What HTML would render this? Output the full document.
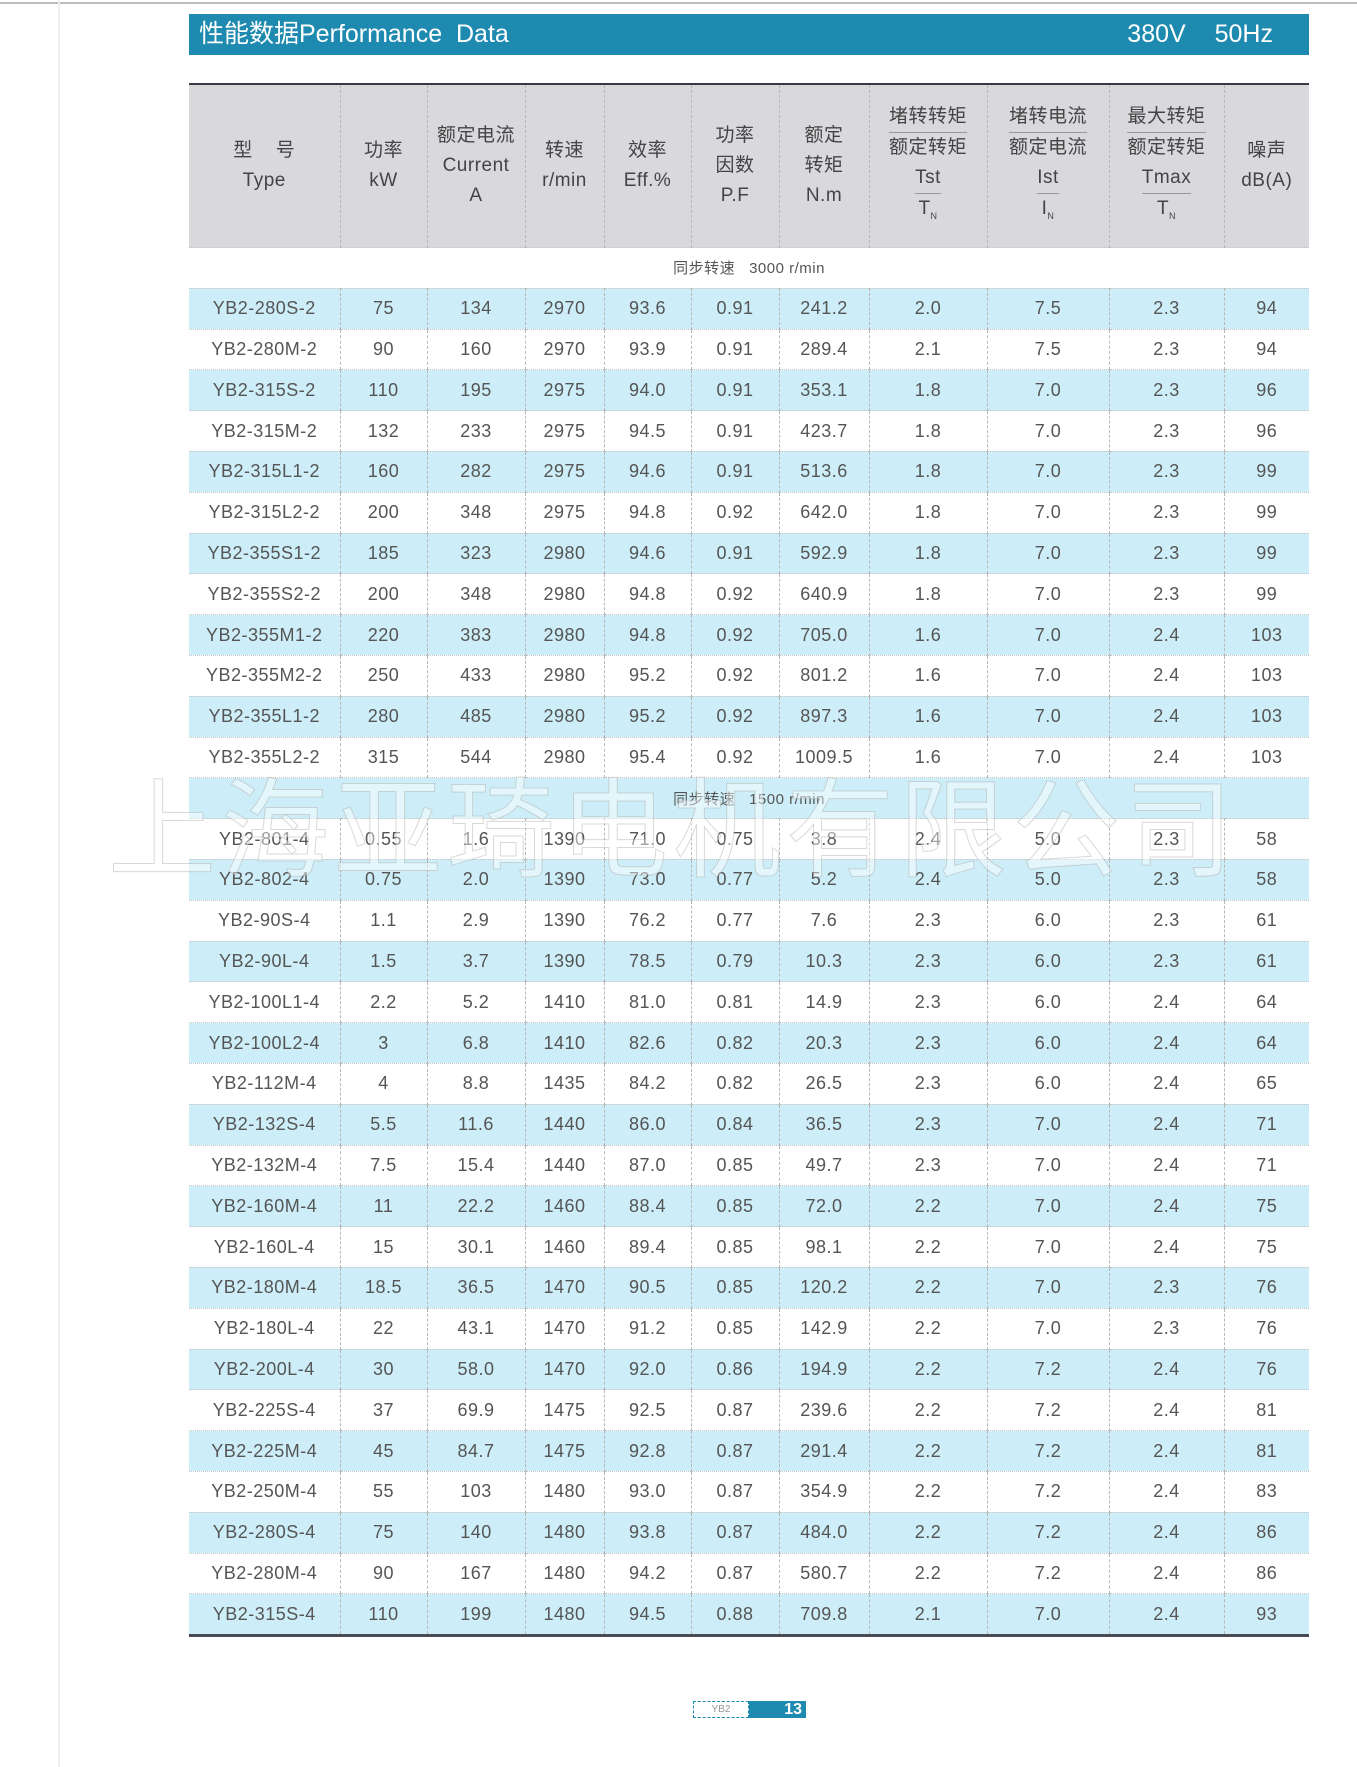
<!DOCTYPE html>
<html><head><meta charset="utf-8">
<style>
html,body{margin:0;padding:0;background:#fff;}
body{width:1357px;height:1767px;position:relative;overflow:hidden;font-family:"Liberation Sans","Noto Sans CJK SC",sans-serif;}
.bar{position:absolute;left:189px;top:14px;width:1120px;height:41px;background:#1f8ab0;color:#fff;}
.bar .t{position:absolute;left:10px;top:3px;font-size:25px;line-height:34px;}
.bar .r{position:absolute;right:36px;top:3px;font-size:25px;line-height:34px;word-spacing:22px;}
table{position:absolute;left:189px;top:83px;width:1120px;border-collapse:collapse;table-layout:fixed;border-top:2px solid #3a3a44;border-bottom:3px solid #4a4a55;}
td{padding:0;text-align:center;color:#555;font-size:18px;border-left:1px dashed #b8b8b8;border-top:1px dotted #c4c4c4;letter-spacing:0.5px;}
td:first-child{border-left:none;}
tr.h td{background:#d9d9dd;height:162px;font-size:19px;line-height:30px;color:#444;vertical-align:middle;}
tr.d td{height:39.8px;}
tr.b td{background:#cdeef8;}
tr.s td{height:39.8px;font-size:15px;color:#555;border-left:none;}
.fr{display:inline-block;border-bottom:1px solid #999;}
.wm{position:absolute;left:108px;top:762px;font-size:108px;line-height:120px;letter-spacing:5px;color:rgba(255,255,255,0.45);-webkit-text-stroke:1px rgba(170,170,170,0.45);font-family:"Noto Sans CJK SC",sans-serif;white-space:nowrap;}
.pg{position:absolute;left:693px;top:1701px;height:17px;width:113px;}
</style></head><body>
<div style="position:absolute;left:0;top:2px;width:1357px;height:2px;background:#bbb;"></div>
<div style="position:absolute;left:58px;top:0;width:2px;height:1767px;background:#eee;"></div>
<div class="bar"><span class="t">性能数据Performance&nbsp; Data</span><span class="r">380V 50Hz</span></div>
<table>
<colgroup><col style="width:151px"><col style="width:87px"><col style="width:98px"><col style="width:79px"><col style="width:87px"><col style="width:88px"><col style="width:90px"><col style="width:118px"><col style="width:122px"><col style="width:115px"><col style="width:85px"></colgroup>
<tr class="h"><td>型&nbsp;&nbsp;&nbsp;&nbsp;号<br>Type</td><td>功率<br>kW</td><td>额定电流<br>Current<br>A</td><td>转速<br>r/min</td><td>效率<br>Eff.%</td><td>功率<br>因数<br>P.F</td><td>额定<br>转矩<br>N.m</td><td><span class="fr">堵转转矩</span><br>额定转矩<br><span class="fr">Tst</span><br>T<sub style="font-size:9px">N</sub></td><td><span class="fr">堵转电流</span><br>额定电流<br><span class="fr">Ist</span><br>I<sub style="font-size:9px">N</sub></td><td><span class="fr">最大转矩</span><br>额定转矩<br><span class="fr">Tmax</span><br>T<sub style="font-size:9px">N</sub></td><td>噪声<br>dB(A)</td></tr>
<tr class="s"><td colspan="11">同步转速&nbsp;&nbsp; 3000 r/min</td></tr>
<tr class="d b"><td>YB2-280S-2</td><td>75</td><td>134</td><td>2970</td><td>93.6</td><td>0.91</td><td>241.2</td><td>2.0</td><td>7.5</td><td>2.3</td><td>94</td></tr>
<tr class="d"><td>YB2-280M-2</td><td>90</td><td>160</td><td>2970</td><td>93.9</td><td>0.91</td><td>289.4</td><td>2.1</td><td>7.5</td><td>2.3</td><td>94</td></tr>
<tr class="d b"><td>YB2-315S-2</td><td>110</td><td>195</td><td>2975</td><td>94.0</td><td>0.91</td><td>353.1</td><td>1.8</td><td>7.0</td><td>2.3</td><td>96</td></tr>
<tr class="d"><td>YB2-315M-2</td><td>132</td><td>233</td><td>2975</td><td>94.5</td><td>0.91</td><td>423.7</td><td>1.8</td><td>7.0</td><td>2.3</td><td>96</td></tr>
<tr class="d b"><td>YB2-315L1-2</td><td>160</td><td>282</td><td>2975</td><td>94.6</td><td>0.91</td><td>513.6</td><td>1.8</td><td>7.0</td><td>2.3</td><td>99</td></tr>
<tr class="d"><td>YB2-315L2-2</td><td>200</td><td>348</td><td>2975</td><td>94.8</td><td>0.92</td><td>642.0</td><td>1.8</td><td>7.0</td><td>2.3</td><td>99</td></tr>
<tr class="d b"><td>YB2-355S1-2</td><td>185</td><td>323</td><td>2980</td><td>94.6</td><td>0.91</td><td>592.9</td><td>1.8</td><td>7.0</td><td>2.3</td><td>99</td></tr>
<tr class="d"><td>YB2-355S2-2</td><td>200</td><td>348</td><td>2980</td><td>94.8</td><td>0.92</td><td>640.9</td><td>1.8</td><td>7.0</td><td>2.3</td><td>99</td></tr>
<tr class="d b"><td>YB2-355M1-2</td><td>220</td><td>383</td><td>2980</td><td>94.8</td><td>0.92</td><td>705.0</td><td>1.6</td><td>7.0</td><td>2.4</td><td>103</td></tr>
<tr class="d"><td>YB2-355M2-2</td><td>250</td><td>433</td><td>2980</td><td>95.2</td><td>0.92</td><td>801.2</td><td>1.6</td><td>7.0</td><td>2.4</td><td>103</td></tr>
<tr class="d b"><td>YB2-355L1-2</td><td>280</td><td>485</td><td>2980</td><td>95.2</td><td>0.92</td><td>897.3</td><td>1.6</td><td>7.0</td><td>2.4</td><td>103</td></tr>
<tr class="d"><td>YB2-355L2-2</td><td>315</td><td>544</td><td>2980</td><td>95.4</td><td>0.92</td><td>1009.5</td><td>1.6</td><td>7.0</td><td>2.4</td><td>103</td></tr>
<tr class="s b"><td colspan="11">同步转速&nbsp;&nbsp; 1500 r/min</td></tr>
<tr class="d"><td>YB2-801-4</td><td>0.55</td><td>1.6</td><td>1390</td><td>71.0</td><td>0.75</td><td>3.8</td><td>2.4</td><td>5.0</td><td>2.3</td><td>58</td></tr>
<tr class="d b"><td>YB2-802-4</td><td>0.75</td><td>2.0</td><td>1390</td><td>73.0</td><td>0.77</td><td>5.2</td><td>2.4</td><td>5.0</td><td>2.3</td><td>58</td></tr>
<tr class="d"><td>YB2-90S-4</td><td>1.1</td><td>2.9</td><td>1390</td><td>76.2</td><td>0.77</td><td>7.6</td><td>2.3</td><td>6.0</td><td>2.3</td><td>61</td></tr>
<tr class="d b"><td>YB2-90L-4</td><td>1.5</td><td>3.7</td><td>1390</td><td>78.5</td><td>0.79</td><td>10.3</td><td>2.3</td><td>6.0</td><td>2.3</td><td>61</td></tr>
<tr class="d"><td>YB2-100L1-4</td><td>2.2</td><td>5.2</td><td>1410</td><td>81.0</td><td>0.81</td><td>14.9</td><td>2.3</td><td>6.0</td><td>2.4</td><td>64</td></tr>
<tr class="d b"><td>YB2-100L2-4</td><td>3</td><td>6.8</td><td>1410</td><td>82.6</td><td>0.82</td><td>20.3</td><td>2.3</td><td>6.0</td><td>2.4</td><td>64</td></tr>
<tr class="d"><td>YB2-112M-4</td><td>4</td><td>8.8</td><td>1435</td><td>84.2</td><td>0.82</td><td>26.5</td><td>2.3</td><td>6.0</td><td>2.4</td><td>65</td></tr>
<tr class="d b"><td>YB2-132S-4</td><td>5.5</td><td>11.6</td><td>1440</td><td>86.0</td><td>0.84</td><td>36.5</td><td>2.3</td><td>7.0</td><td>2.4</td><td>71</td></tr>
<tr class="d"><td>YB2-132M-4</td><td>7.5</td><td>15.4</td><td>1440</td><td>87.0</td><td>0.85</td><td>49.7</td><td>2.3</td><td>7.0</td><td>2.4</td><td>71</td></tr>
<tr class="d b"><td>YB2-160M-4</td><td>11</td><td>22.2</td><td>1460</td><td>88.4</td><td>0.85</td><td>72.0</td><td>2.2</td><td>7.0</td><td>2.4</td><td>75</td></tr>
<tr class="d"><td>YB2-160L-4</td><td>15</td><td>30.1</td><td>1460</td><td>89.4</td><td>0.85</td><td>98.1</td><td>2.2</td><td>7.0</td><td>2.4</td><td>75</td></tr>
<tr class="d b"><td>YB2-180M-4</td><td>18.5</td><td>36.5</td><td>1470</td><td>90.5</td><td>0.85</td><td>120.2</td><td>2.2</td><td>7.0</td><td>2.3</td><td>76</td></tr>
<tr class="d"><td>YB2-180L-4</td><td>22</td><td>43.1</td><td>1470</td><td>91.2</td><td>0.85</td><td>142.9</td><td>2.2</td><td>7.0</td><td>2.3</td><td>76</td></tr>
<tr class="d b"><td>YB2-200L-4</td><td>30</td><td>58.0</td><td>1470</td><td>92.0</td><td>0.86</td><td>194.9</td><td>2.2</td><td>7.2</td><td>2.4</td><td>76</td></tr>
<tr class="d"><td>YB2-225S-4</td><td>37</td><td>69.9</td><td>1475</td><td>92.5</td><td>0.87</td><td>239.6</td><td>2.2</td><td>7.2</td><td>2.4</td><td>81</td></tr>
<tr class="d b"><td>YB2-225M-4</td><td>45</td><td>84.7</td><td>1475</td><td>92.8</td><td>0.87</td><td>291.4</td><td>2.2</td><td>7.2</td><td>2.4</td><td>81</td></tr>
<tr class="d"><td>YB2-250M-4</td><td>55</td><td>103</td><td>1480</td><td>93.0</td><td>0.87</td><td>354.9</td><td>2.2</td><td>7.2</td><td>2.4</td><td>83</td></tr>
<tr class="d b"><td>YB2-280S-4</td><td>75</td><td>140</td><td>1480</td><td>93.8</td><td>0.87</td><td>484.0</td><td>2.2</td><td>7.2</td><td>2.4</td><td>86</td></tr>
<tr class="d"><td>YB2-280M-4</td><td>90</td><td>167</td><td>1480</td><td>94.2</td><td>0.87</td><td>580.7</td><td>2.2</td><td>7.2</td><td>2.4</td><td>86</td></tr>
<tr class="d b"><td>YB2-315S-4</td><td>110</td><td>199</td><td>1480</td><td>94.5</td><td>0.88</td><td>709.8</td><td>2.1</td><td>7.0</td><td>2.4</td><td>93</td></tr>
</table>
<div class="wm">上海亚琦电机有限公司</div>
<div class="pg"><div style="position:absolute;left:0;top:0;width:56px;height:17px;border:1px dashed #1f8ab0;box-sizing:border-box;color:#999;font-size:10px;text-align:center;line-height:15px;">YB2</div><div style="position:absolute;left:56px;top:0;width:57px;height:17px;background:#1f8ab0;color:#fff;font-size:16px;font-weight:bold;text-align:right;line-height:17px;padding-right:4px;box-sizing:border-box;">13</div></div>
</body></html>
